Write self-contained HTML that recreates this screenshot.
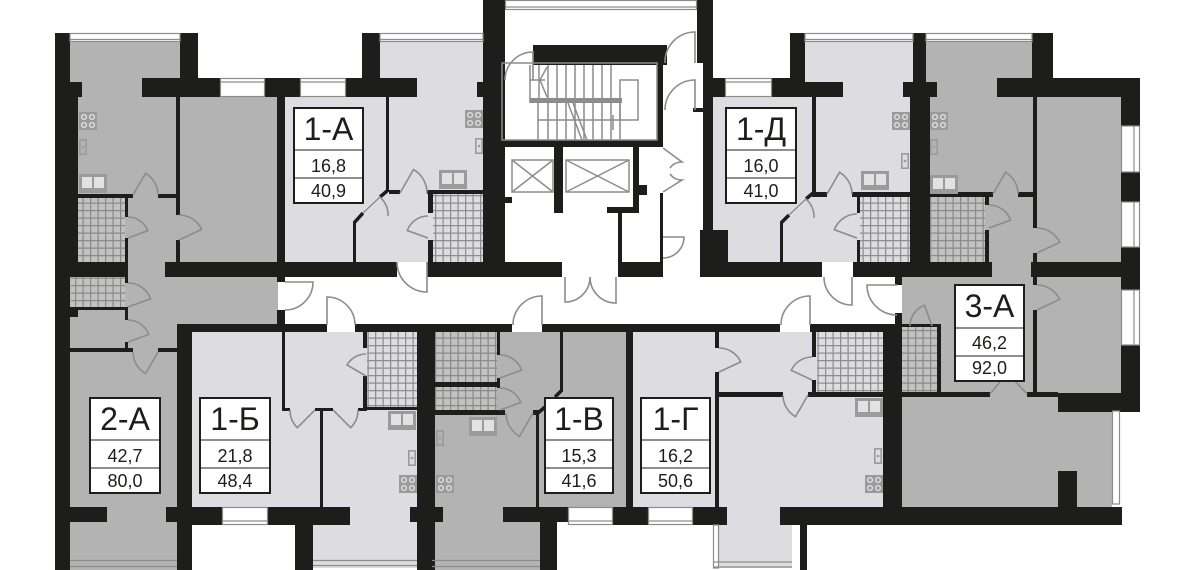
<!DOCTYPE html>
<html><head><meta charset="utf-8">
<style>
html,body{margin:0;padding:0;background:#fff;}
svg{display:block}
.lbl{font-family:"Liberation Sans","DejaVu Sans",sans-serif;fill:#1d1d1b;text-anchor:middle}
.big{font-size:32px}
.num{font-size:18px}
</style></head>
<body>
<svg width="1200" height="570" viewBox="0 0 1200 570" xmlns="http://www.w3.org/2000/svg">
<defs>
<pattern id="tl" width="7.5" height="7.5" patternUnits="userSpaceOnUse">
<rect width="7.5" height="7.5" fill="#dcdce1"/><path d="M0,0.6H7.5M0.6,0V7.5" stroke="#8e8e8e" stroke-width="1.3"/></pattern>
<pattern id="tg" width="7.5" height="7.5" patternUnits="userSpaceOnUse">
<rect width="7.5" height="7.5" fill="#c2c2c2"/><path d="M0,0.6H7.5M0.6,0V7.5" stroke="#8a8a8a" stroke-width="1.3"/></pattern>
<symbol id="stove" viewBox="0 0 18 18"><rect width="18" height="18" fill="#9b9b9b"/><g fill="none" stroke="#e4e4e4" stroke-width="1.3"><circle cx="5" cy="5" r="2.4"/><circle cx="13" cy="5" r="2.4"/><circle cx="5" cy="13" r="2.4"/><circle cx="13" cy="13" r="2.4"/></g></symbol>
<symbol id="sink" viewBox="0 0 8 16"><rect x="0.8" y="0.8" width="6.4" height="14.4" fill="none" stroke="#9b9b9b" stroke-width="1.6"/><circle cx="4" cy="8" r="1.3" fill="#9b9b9b"/></symbol>
<symbol id="dsink" viewBox="0 0 28 19"><rect width="28" height="19" fill="#9b9b9b"/><rect x="3" y="3" width="10" height="11" fill="#e2e2e2"/><rect x="15" y="3" width="10" height="11" fill="#e2e2e2"/></symbol>
</defs>

<!-- room fills: gray -->
<g fill="#b3b3b3">
<rect x="70" y="33" width="110" height="164"/>
<rect x="180" y="97" width="98" height="165"/>
<rect x="125" y="193" width="55" height="84"/>
<rect x="70" y="277" width="208" height="71"/>
<rect x="70" y="348" width="108" height="222"/>
<rect x="435" y="332" width="192" height="175"/>
<rect x="432" y="507" width="108" height="63"/>
<rect x="926" y="33" width="107" height="164"/>
<rect x="985" y="192" width="48" height="93"/>
<rect x="1033" y="97" width="88" height="165"/>
<rect x="902" y="262" width="219" height="131"/>
<rect x="902" y="393" width="210" height="114"/>
</g>
<!-- room fills: light -->
<g fill="#dcdce1">
<rect x="285" y="97" width="198" height="165"/>
<rect x="380" y="33" width="103" height="64"/>
<rect x="192" y="332" width="225" height="175"/>
<rect x="313" y="507" width="104" height="61"/>
<rect x="633" y="332" width="250" height="175"/>
<rect x="713" y="507" width="79" height="61"/>
<rect x="712" y="97" width="198" height="165"/>
<rect x="805" y="33" width="108" height="64"/>
</g>

<!-- tiles -->
<rect x="78" y="198" width="47" height="64" fill="url(#tg)"/>
<rect x="71" y="277" width="54" height="30" fill="url(#tg)"/>
<rect x="433" y="194" width="50" height="68" fill="url(#tl)"/>
<rect x="860" y="197" width="50" height="65" fill="url(#tl)"/>
<rect x="930" y="197" width="55" height="65" fill="url(#tg)"/>
<rect x="367" y="332" width="50" height="76" fill="url(#tl)"/>
<rect x="435" y="332" width="62" height="50" fill="url(#tg)"/>
<rect x="435" y="387" width="62" height="23" fill="url(#tg)"/>
<rect x="817" y="332" width="66" height="61" fill="url(#tl)"/>
<rect x="902" y="327" width="36" height="66" fill="url(#tg)"/>

<!-- walls -->
<g fill="#1d1d1b">
<rect x="55" y="33" width="15" height="537"/>
<rect x="55" y="82" width="27" height="15"/>
<rect x="55" y="97" width="23" height="165"/>
<rect x="180" y="33" width="18" height="64"/>
<rect x="142" y="78" width="78" height="19"/>
<rect x="265" y="78" width="35" height="19"/>
<rect x="346" y="78" width="71" height="19"/>
<rect x="362" y="33" width="18" height="45"/>
<rect x="477" y="82" width="6" height="15"/>
<rect x="483" y="0" width="22" height="277"/>
<rect x="176" y="97" width="4" height="118"/>
<rect x="176" y="240" width="4" height="22"/>
<rect x="78" y="194" width="55" height="4"/>
<rect x="158" y="194" width="20" height="4"/>
<rect x="125" y="198" width="3" height="19"/>
<rect x="125" y="238" width="3" height="45"/>
<rect x="125" y="307" width="3" height="13"/>
<rect x="125" y="342" width="3" height="6"/>
<rect x="55" y="262" width="73" height="15"/>
<rect x="165" y="262" width="232" height="15"/>
<rect x="277" y="78" width="8" height="204"/>
<rect x="277" y="310" width="8" height="22"/>
<rect x="70" y="307" width="58" height="3"/>
<rect x="70" y="310" width="8" height="7"/>
<rect x="70" y="348" width="63" height="4"/>
<rect x="158" y="348" width="20" height="4"/>
<rect x="178" y="324" width="149" height="8"/>
<rect x="355" y="324" width="157" height="8"/>
<rect x="542" y="324" width="238" height="8"/>
<rect x="810" y="324" width="92" height="8"/>
<rect x="177" y="324" width="15" height="246"/>
<rect x="70" y="507" width="37" height="15"/>
<rect x="166" y="507" width="26" height="15"/>
<!-- 1-A inner -->
<rect x="386" y="97" width="3" height="95"/>
<rect x="353" y="222" width="3" height="40"/>
<rect x="389" y="190" width="11" height="4"/>
<rect x="427" y="190" width="56" height="4"/>
<rect x="428" y="194" width="5" height="19"/>
<rect x="428" y="240" width="5" height="22"/>
<rect x="427" y="262" width="135" height="15"/>
<!-- stair / lifts -->
<rect x="533" y="45" width="134" height="20"/>
<rect x="657" y="45" width="6" height="102"/>
<rect x="505" y="140" width="158" height="7"/>
<rect x="554" y="147" width="9" height="66"/>
<rect x="505" y="197" width="7" height="6"/>
<rect x="633" y="147" width="6" height="66"/>
<rect x="639" y="185" width="8" height="10"/>
<rect x="607" y="207" width="32" height="6"/>
<rect x="618" y="213" width="4" height="49"/>
<rect x="660" y="193" width="3" height="69"/>
<rect x="618" y="262" width="45" height="15"/>
<rect x="697" y="0" width="16" height="63"/>
<rect x="703" y="63" width="10" height="167"/>
<rect x="693" y="108" width="12" height="4"/>
<rect x="700" y="230" width="28" height="32"/>
<rect x="700" y="262" width="122" height="15"/>
<!-- 1-Д / 3-A top -->
<rect x="713" y="78" width="12" height="19"/>
<rect x="772" y="78" width="28" height="19"/>
<rect x="790" y="33" width="15" height="49"/>
<rect x="800" y="82" width="43" height="15"/>
<rect x="903" y="82" width="34" height="15"/>
<rect x="913" y="33" width="13" height="64"/>
<rect x="910" y="97" width="20" height="170"/>
<rect x="812" y="97" width="4" height="96"/>
<rect x="812" y="192" width="15" height="5"/>
<rect x="852" y="192" width="58" height="5"/>
<rect x="857" y="197" width="3" height="16"/>
<rect x="857" y="240" width="3" height="22"/>
<rect x="780" y="222" width="3" height="40"/>
<rect x="853" y="262" width="139" height="15"/>
<rect x="1031" y="262" width="109" height="15"/>
<rect x="997" y="78" width="56" height="19"/>
<rect x="1032" y="33" width="21" height="45"/>
<rect x="1053" y="78" width="87" height="19"/>
<rect x="1121" y="78" width="19" height="334"/>
<rect x="930" y="192" width="63" height="5"/>
<rect x="1018" y="192" width="15" height="5"/>
<rect x="985" y="197" width="4" height="8"/>
<rect x="985" y="230" width="4" height="32"/>
<rect x="1033" y="97" width="4" height="131"/>
<rect x="1033" y="253" width="4" height="9"/>
<rect x="1033" y="277" width="4" height="8"/>
<rect x="1033" y="310" width="4" height="83"/>
<!-- right lower -->
<rect x="895" y="277" width="7" height="8"/>
<rect x="895" y="313" width="7" height="19"/>
<rect x="883" y="332" width="19" height="176"/>
<rect x="902" y="324" width="39" height="3"/>
<rect x="937" y="324" width="4" height="69"/>
<rect x="902" y="392" width="88" height="5"/>
<rect x="1027" y="392" width="31" height="5"/>
<rect x="1058" y="393" width="82" height="19"/>
<rect x="1058" y="471" width="19" height="36"/>
<rect x="780" y="507" width="342" height="18"/>
<rect x="800" y="525" width="7" height="45"/>
<!-- 1-Б -->
<rect x="282" y="324" width="3" height="87"/>
<rect x="282" y="408" width="8" height="3"/>
<rect x="315" y="408" width="18" height="3"/>
<rect x="358" y="408" width="9" height="3"/>
<rect x="320" y="410" width="3" height="97"/>
<rect x="363" y="332" width="4" height="16"/>
<rect x="363" y="376" width="4" height="32"/>
<rect x="367" y="407" width="50" height="3"/>
<rect x="417" y="324" width="18" height="246"/>
<rect x="192" y="507" width="30" height="18"/>
<rect x="268" y="507" width="82" height="18"/>
<rect x="295" y="525" width="18" height="45"/>
<rect x="410" y="507" width="33" height="15"/>
<!-- 1-В -->
<rect x="435" y="382" width="65" height="5"/>
<rect x="497" y="332" width="3" height="23"/>
<rect x="497" y="378" width="3" height="10"/>
<rect x="497" y="410" width="3" height="3"/>
<rect x="435" y="410" width="70" height="5"/>
<rect x="533" y="410" width="6" height="5"/>
<rect x="536" y="413" width="3" height="94"/>
<rect x="560" y="332" width="3" height="60"/>
<rect x="503" y="507" width="65" height="15"/>
<rect x="613" y="507" width="35" height="18"/>
<rect x="693" y="507" width="34" height="18"/>
<rect x="540" y="522" width="17" height="48"/>
<rect x="626" y="332" width="7" height="175"/>
<!-- 1-Г -->
<rect x="715" y="332" width="4" height="16"/>
<rect x="715" y="372" width="4" height="135"/>
<rect x="719" y="392" width="64" height="5"/>
<rect x="808" y="392" width="75" height="5"/>
<rect x="812" y="332" width="4" height="25"/>
<rect x="812" y="380" width="4" height="13"/>
</g>
<!-- diagonal thin walls -->
<g stroke="#1d1d1b" stroke-width="3.5" fill="none">
<path d="M387,191 L380,197 M363,213 L354,223"/>
<path d="M813,193 L806,199 M789,215 L781,223"/>
<path d="M561,391 L555,397 M545,407 L538,413"/>
</g>
<g stroke="#ffffff" stroke-width="2.5"><path d="M380,197 L363,213 M806,199 L789,215 M555,397 L545,407"/></g>

<!-- windows -->
<g fill="#fff" stroke="#8c8c8c" stroke-width="1.2">
<rect x="70" y="33.5" width="110" height="8"/>
<rect x="380" y="33.5" width="103" height="8"/>
<rect x="805" y="33.5" width="108" height="8"/>
<rect x="926" y="33.5" width="106" height="8"/>
<rect x="505.5" y="0.5" width="191" height="9"/>
<rect x="220.5" y="78.5" width="44" height="18"/>
<rect x="300.5" y="78.5" width="45" height="18"/>
<rect x="725.5" y="78.5" width="46" height="18"/>
<rect x="1121.5" y="126" width="18" height="46"/>
<rect x="1121.5" y="202" width="18" height="45"/>
<rect x="1121.5" y="290" width="18" height="55"/>
<rect x="222.5" y="507.5" width="45" height="17"/>
<rect x="568.5" y="507.5" width="44" height="17"/>
<rect x="648.5" y="507.5" width="44" height="17"/>
<rect x="1112.5" y="411" width="7" height="93"/>
<rect x="713.5" y="525" width="5" height="43"/>
</g>
<g stroke="#8c8c8c" stroke-width="1.2" fill="none">
<path d="M70,39.5H180M380,39.5H483M805,39.5H913M926,39.5H1032M505,7H697"/>
<path d="M221,82H265M301,82H346M726,82H772"/>
<path d="M1134,126V172M1134,202V247M1134,290V345"/>
<path d="M223,521H268M569,521H613M649,521H693"/>
<path d="M70,560.5H177M70,566.5H177M313,560.5H417M313,565.5H417M432,560.5H540M432,566.5H540M713,562H792M713,567H792"/>
</g>

<!-- stairs -->
<g stroke="#8c8c8c" stroke-width="1.5" fill="none">
<rect x="502" y="63" width="155" height="77"/>
<path d="M530,65V103M530,80H545M547,67L540,80L547,97"/>
<path d="M539,65V98M548,65V98M557,65V98M566,65V98M575,65V98M584,65V98M593,65V98M602,65V98M611,65V98"/>
<rect x="620" y="80" width="18" height="40"/>
<path d="M538,103V140M548,103V140M557,103V140M566,103V140M575,103V140M584,103V140M593,103V140M602,103V140M611,103V140M620,103V140M538,120H620"/>
<path d="M568,103L582,140M573,103L587,140M613,115V130"/>
<rect x="512" y="160" width="41" height="32"/>
<path d="M512,160L553,192M553,160L512,192"/>
<rect x="566" y="160" width="63" height="32"/>
<path d="M566,160L629,192M629,160L566,192"/>
</g>
<rect x="530" y="98" width="92" height="5" fill="#8c8c8c"/>

<!-- kitchen icons -->
<use href="#stove" x="79" y="112" width="18" height="18"/>
<use href="#sink" x="79" y="139" width="8" height="16"/>
<use href="#dsink" x="79" y="174" width="28" height="19"/>
<use href="#stove" x="465" y="110" width="18" height="18"/>
<use href="#sink" x="475" y="138" width="8" height="16"/>
<use href="#dsink" x="439" y="170" width="28" height="19"/>
<use href="#stove" x="892" y="112" width="18" height="18"/>
<use href="#sink" x="901" y="153" width="8" height="16"/>
<use href="#dsink" x="861" y="171" width="28" height="19"/>
<use href="#stove" x="930" y="112" width="18" height="18"/>
<use href="#sink" x="930" y="139" width="8" height="16"/>
<use href="#dsink" x="930" y="175" width="28" height="19"/>
<use href="#dsink" x="388" y="411" width="28" height="19"/>
<use href="#sink" x="408" y="450" width="8" height="16"/>
<use href="#stove" x="399" y="475" width="18" height="18"/>
<use href="#dsink" x="469" y="417" width="28" height="19"/>
<use href="#sink" x="436" y="430" width="8" height="16"/>
<use href="#stove" x="436" y="475" width="18" height="18"/>
<use href="#dsink" x="855" y="398" width="28" height="19"/>
<use href="#sink" x="874" y="448" width="8" height="16"/>
<use href="#stove" x="865" y="475" width="18" height="18"/>

<!-- doors -->
<g stroke="#8c8c8c" stroke-width="1.6" fill="none">
<path d="M133,195 L145.5,173.3 A25,25 0 0 1 158,195"/>
<path d="M128,238 L147.7,230.8 A21,21 0 0 0 128,217"/>
<path d="M179,240 L201.7,229.4 A25,25 0 0 0 179,215"/>
<path d="M128,307 L150.6,298.8 A24,24 0 0 0 128,283"/>
<path d="M128,342 L148.7,334.5 A22,22 0 0 0 128,320"/>
<path d="M158,352 L145.5,373.7 A25,25 0 0 1 133,352"/>
<path d="M285,282 L313,282 A28,28 0 0 1 285,310"/>
<path d="M427,262 L427,292 A30,30 0 0 1 397,262"/>
<path d="M327,325 L327,297 A28,28 0 0 1 355,325"/>
<path d="M542,325 L542,296 A29,29 0 0 0 513,325"/>
<path d="M565,277 L565,302 A25,25 0 0 0 590,277"/>
<path d="M616,277 L616,303 A26,26 0 0 1 590,277"/>
<path d="M810,325 L810,296 A29,29 0 0 0 781,325"/>
<path d="M852,277 L852,305 A28,28 0 0 1 824,277"/>
<path d="M897,285 L867,285 A30,30 0 0 0 897,315"/>
<path d="M400,193 L413.5,169.6 A27,27 0 0 1 427,193"/>
<path d="M428,238 L407.3,230.5 A22,22 0 0 1 428,216"/>
<path d="M363,213 L380,197 A24,24 0 0 1 388,216"/>
<path d="M315,410 L297.3,427.7 A25,25 0 0 1 290,410"/>
<path d="M333,410 L350.7,427.7 A25,25 0 0 0 358,410"/>
<path d="M366,376 L347,365 A22,22 0 0 1 366,354"/>
<path d="M500,378 L521.6,370.1 A23,23 0 0 0 500,355"/>
<path d="M500,410 L520.7,402.5 A22,22 0 0 0 500,388"/>
<path d="M533,413 L519.5,436.4 A27,27 0 0 1 506,413"/>
<path d="M555,397 A20,20 0 0 0 545,407"/>
<path d="M719,372 L740.8,361.9 A24,24 0 0 0 719,348"/>
<path d="M808,395 L795.5,416.7 A25,25 0 0 1 783,395"/>
<path d="M812,380 L791.2,370.3 A23,23 0 0 1 812,357"/>
<path d="M932,326 L924.5,305.3 A22,22 0 0 0 910,326"/>
<path d="M1037,310 L1059.7,299.4 A25,25 0 0 0 1037,285"/>
<path d="M990,394 L1000,382 M1015,381 L1027,394"/>
<path d="M827,194 L839.5,172.3 A25,25 0 0 1 852,194"/>
<path d="M857,238 L834.4,229.8 A24,24 0 0 1 857,214"/>
<path d="M993,194 L1005.5,172.3 A25,25 0 0 1 1018,194"/>
<path d="M989,228 L1010.6,220.1 A23,23 0 0 0 989,205"/>
<path d="M1037,253 L1059.7,242.4 A25,25 0 0 0 1037,228"/>
<path d="M789,215 L806,199 A24,24 0 0 1 814,218"/>
<path d="M533,80 L533,52 A28,28 0 0 0 505,80"/>
<path d="M695,63 L695,32 A30,30 0 0 0 665,63"/>
<path d="M695,110 L695,80 A30,30 0 0 0 665,110"/>
<path d="M663,148 L682,162 A14,14 0 0 0 670,168 M663,192 L682,180 A14,14 0 0 1 670,174"/>
<path d="M663,237 L684,237 A21,21 0 0 1 663,258"/>
</g>

<!-- labels -->
<g fill="#fff" stroke="#1d1d1b" stroke-width="2">
<rect x="294" y="108" width="69" height="95"/>
<rect x="726" y="108" width="70" height="95"/>
<rect x="90" y="398" width="70" height="95"/>
<rect x="200" y="398" width="70" height="95"/>
<rect x="545" y="398" width="68" height="95"/>
<rect x="641" y="398" width="69" height="95"/>
<rect x="955" y="285" width="69" height="96"/>
</g>
<g stroke="#4a4a4a" stroke-width="1.2">
<path d="M295,150H362M295,178H362"/>
<path d="M727,150H795M727,178H795"/>
<path d="M91,440H159M91,468H159"/>
<path d="M201,440H269M201,468H269"/>
<path d="M546,440H612M546,468H612"/>
<path d="M642,440H709M642,468H709"/>
<path d="M956,328H1023M956,356H1023"/>
</g>
<g class="lbl">
<text class="big" x="328.5" y="140">1-А</text>
<text class="num" x="328.5" y="172">16,8</text>
<text class="num" x="328.5" y="197">40,9</text>
<text class="big" x="761" y="140">1-Д</text>
<text class="num" x="761" y="172">16,0</text>
<text class="num" x="761" y="197">41,0</text>
<text class="big" x="125" y="430">2-А</text>
<text class="num" x="125" y="462">42,7</text>
<text class="num" x="125" y="487">80,0</text>
<text class="big" x="235" y="430">1-Б</text>
<text class="num" x="235" y="462">21,8</text>
<text class="num" x="235" y="487">48,4</text>
<text class="big" x="579" y="430">1-В</text>
<text class="num" x="579" y="462">15,3</text>
<text class="num" x="579" y="487">41,6</text>
<text class="big" x="675.5" y="430">1-Г</text>
<text class="num" x="675.5" y="462">16,2</text>
<text class="num" x="675.5" y="487">50,6</text>
<text class="big" x="989.5" y="317">3-А</text>
<text class="num" x="989.5" y="349">46,2</text>
<text class="num" x="989.5" y="374">92,0</text>
</g>
</svg>
</body></html>
